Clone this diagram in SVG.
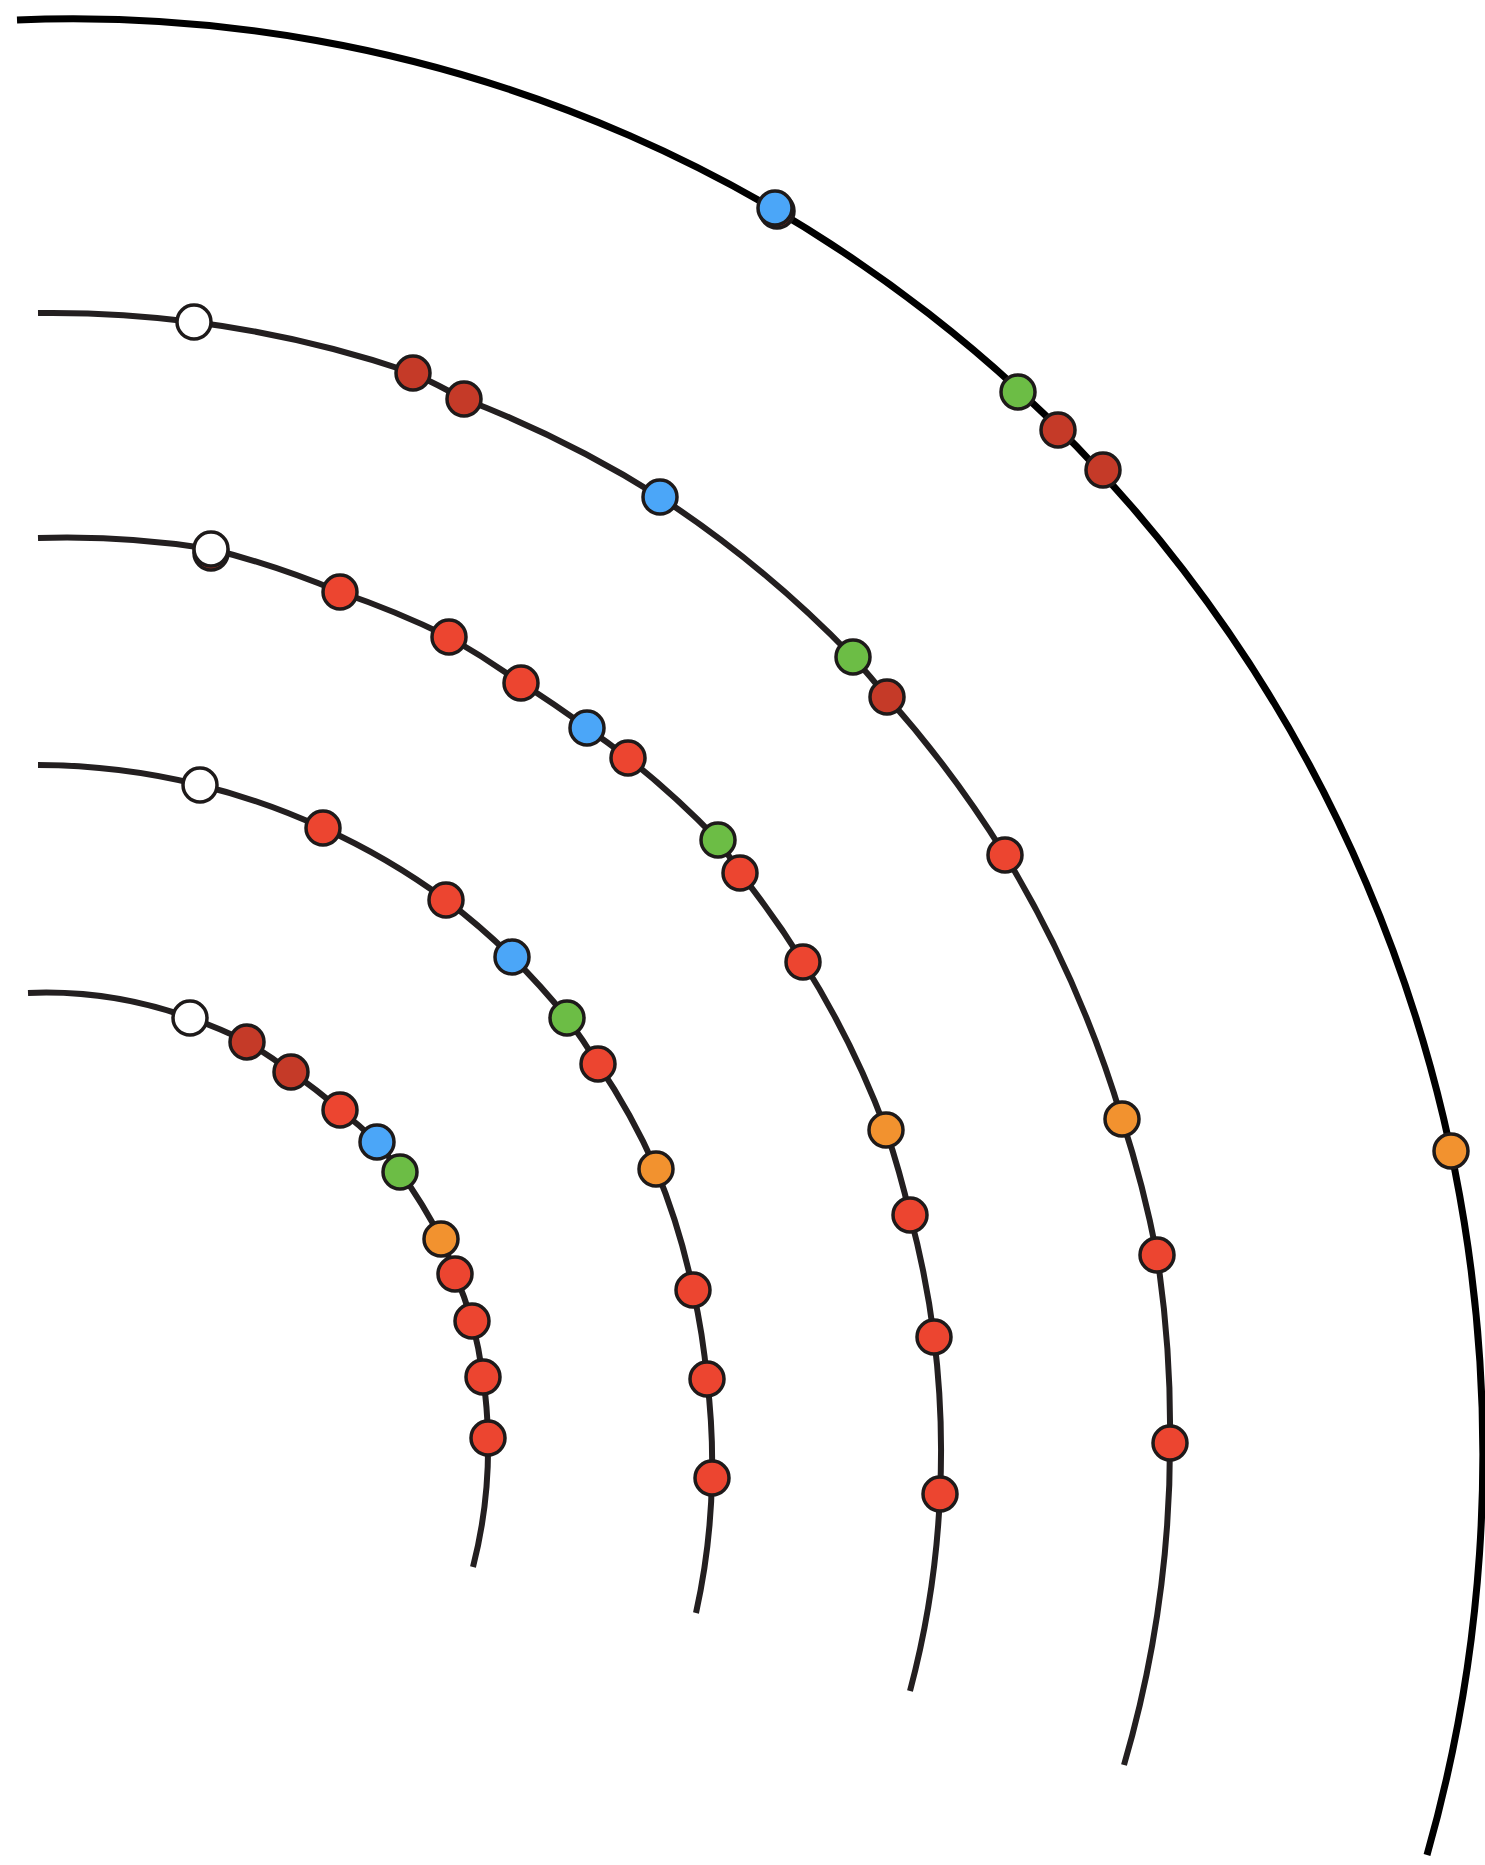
<svg xmlns="http://www.w3.org/2000/svg" width="1485" height="1865" viewBox="0 0 1485 1865">
  <style>
    .arc { fill: none; stroke: #231f20; stroke-width: 6; stroke-linecap: butt; }
    .arc.outer { stroke: #000000; stroke-width: 7; }
    .node use { stroke: #1e1a1a; stroke-width: 3.5; }
    .white { fill: #ffffff; }
    .red { fill: #ec4530; }
    .dred { fill: #c53a28; }
    .blue { fill: #4ba6f8; }
    .green { fill: #6cbd45; }
    .orange { fill: #f2922f; }
  </style>
  <defs>
    <circle id="dot" r="17"/>
  </defs>
  <rect x="0" y="0" width="1485" height="1865" fill="#ffffff"/>

  <!-- concentric track arcs -->
  <g id="connectors">
    <path id="arc-1" class="arc outer" d="M17,20 A1410,1436 0 0 1 1427,1855"/>
    <path id="arc-2" class="arc" d="M38,313 A1118,1131 0 0 1 194,322 A1118,1131 0 0 1 413,373 A1118,1131 0 0 1 464,399 A1118,1131 0 0 1 660,497 A1118,1131 0 0 1 853,657 A1118,1131 0 0 1 887,697 A1118,1131 0 0 1 1005,855 A1118,1131 0 0 1 1122,1119 A1118,1131 0 0 1 1157,1255 A1118,1131 0 0 1 1170,1443 A1118,1131 0 0 1 1124,1765"/>
    <path id="arc-3" class="arc" d="M38,538 A912,912 0 0 1 211,549 A912,912 0 0 1 340,592 A912,912 0 0 1 449,637 A912,912 0 0 1 521,683 A912,912 0 0 1 587,728 A912,912 0 0 1 628,758 A912,912 0 0 1 718,840 A912,912 0 0 1 740,873 A912,912 0 0 1 803,962 A912,912 0 0 1 886,1130 A912,912 0 0 1 910,1215 A912,912 0 0 1 934,1337 A912,912 0 0 1 940,1494 A912,912 0 0 1 910,1691"/>
    <path id="arc-4" class="arc" d="M38,765 A680,680 0 0 1 200,785 A680,680 0 0 1 323,828 A680,680 0 0 1 446,900 A680,680 0 0 1 512,957 A680,680 0 0 1 567,1018 A680,680 0 0 1 598,1064 A680,680 0 0 1 656,1169 A680,680 0 0 1 693,1290 A680,680 0 0 1 707,1379 A680,680 0 0 1 712,1478 A680,680 0 0 1 696,1613"/>
    <path id="arc-5" class="arc" d="M28,993 A440,460 0 0 1 190,1018 A440,460 0 0 1 247,1042 A440,460 0 0 1 291,1072 A440,460 0 0 1 340,1110 A440,460 0 0 1 377,1142 A440,460 0 0 1 400,1172 A440,460 0 0 1 441,1239 A440,460 0 0 1 455,1274 A440,460 0 0 1 472,1321 A440,460 0 0 1 483,1377 A440,460 0 0 1 488,1438 A440,460 0 0 1 473,1567"/>
  </g>

  <!-- arc 1 (outer) -->
  <g id="n1-1" class="node"><use href="#dot" x="777" y="211" class="dred"/><use href="#dot" x="775" y="208" class="blue"/></g>
  <g id="n1-2" class="node"><use href="#dot" x="1018" y="392" class="green"/></g>
  <g id="n1-3" class="node"><use href="#dot" x="1058" y="430" class="dred"/></g>
  <g id="n1-4" class="node"><use href="#dot" x="1103" y="470" class="dred"/></g>
  <g id="n1-5" class="node"><use href="#dot" x="1451" y="1151" class="orange"/></g>

  <!-- arc 2 -->
  <g id="n2-1" class="node"><use href="#dot" x="194" y="322" class="white"/></g>
  <g id="n2-2" class="node"><use href="#dot" x="413" y="373" class="dred"/></g>
  <g id="n2-3" class="node"><use href="#dot" x="464" y="399" class="dred"/></g>
  <g id="n2-4" class="node"><use href="#dot" x="660" y="497" class="blue"/></g>
  <g id="n2-5" class="node"><use href="#dot" x="853" y="657" class="green"/></g>
  <g id="n2-6" class="node"><use href="#dot" x="887" y="697" class="dred"/></g>
  <g id="n2-7" class="node"><use href="#dot" x="1005" y="855" class="red"/></g>
  <g id="n2-8" class="node"><use href="#dot" x="1122" y="1119" class="orange"/></g>
  <g id="n2-9" class="node"><use href="#dot" x="1157" y="1255" class="red"/></g>
  <g id="n2-10" class="node"><use href="#dot" x="1170" y="1443" class="red"/></g>

  <!-- arc 3 -->
  <g id="n3-1" class="node"><use href="#dot" x="211" y="553" class="dred"/><use href="#dot" x="211" y="549" class="white"/></g>
  <g id="n3-2" class="node"><use href="#dot" x="340" y="592" class="red"/></g>
  <g id="n3-3" class="node"><use href="#dot" x="449" y="637" class="red"/></g>
  <g id="n3-4" class="node"><use href="#dot" x="521" y="683" class="red"/></g>
  <g id="n3-5" class="node"><use href="#dot" x="587" y="728" class="blue"/></g>
  <g id="n3-6" class="node"><use href="#dot" x="628" y="758" class="red"/></g>
  <g id="n3-7" class="node"><use href="#dot" x="718" y="840" class="green"/></g>
  <g id="n3-8" class="node"><use href="#dot" x="740" y="873" class="red"/></g>
  <g id="n3-9" class="node"><use href="#dot" x="803" y="962" class="red"/></g>
  <g id="n3-10" class="node"><use href="#dot" x="886" y="1130" class="orange"/></g>
  <g id="n3-11" class="node"><use href="#dot" x="910" y="1215" class="red"/></g>
  <g id="n3-12" class="node"><use href="#dot" x="934" y="1337" class="red"/></g>
  <g id="n3-13" class="node"><use href="#dot" x="940" y="1494" class="red"/></g>

  <!-- arc 4 -->
  <g id="n4-1" class="node"><use href="#dot" x="200" y="785" class="white"/></g>
  <g id="n4-2" class="node"><use href="#dot" x="323" y="828" class="red"/></g>
  <g id="n4-3" class="node"><use href="#dot" x="446" y="900" class="red"/></g>
  <g id="n4-4" class="node"><use href="#dot" x="512" y="957" class="blue"/></g>
  <g id="n4-5" class="node"><use href="#dot" x="567" y="1018" class="green"/></g>
  <g id="n4-6" class="node"><use href="#dot" x="598" y="1064" class="red"/></g>
  <g id="n4-7" class="node"><use href="#dot" x="656" y="1169" class="orange"/></g>
  <g id="n4-8" class="node"><use href="#dot" x="693" y="1290" class="red"/></g>
  <g id="n4-9" class="node"><use href="#dot" x="707" y="1379" class="red"/></g>
  <g id="n4-10" class="node"><use href="#dot" x="712" y="1478" class="red"/></g>

  <!-- arc 5 (inner) -->
  <g id="n5-1" class="node"><use href="#dot" x="190" y="1018" class="white"/></g>
  <g id="n5-2" class="node"><use href="#dot" x="247" y="1042" class="dred"/></g>
  <g id="n5-3" class="node"><use href="#dot" x="291" y="1072" class="dred"/></g>
  <g id="n5-4" class="node"><use href="#dot" x="340" y="1110" class="red"/></g>
  <g id="n5-5" class="node"><use href="#dot" x="377" y="1142" class="blue"/></g>
  <g id="n5-6" class="node"><use href="#dot" x="400" y="1172" class="green"/></g>
  <g id="n5-7" class="node"><use href="#dot" x="441" y="1239" class="orange"/></g>
  <g id="n5-8" class="node"><use href="#dot" x="455" y="1274" class="red"/></g>
  <g id="n5-9" class="node"><use href="#dot" x="472" y="1321" class="red"/></g>
  <g id="n5-10" class="node"><use href="#dot" x="483" y="1377" class="red"/></g>
  <g id="n5-11" class="node"><use href="#dot" x="488" y="1438" class="red"/></g>
</svg>
